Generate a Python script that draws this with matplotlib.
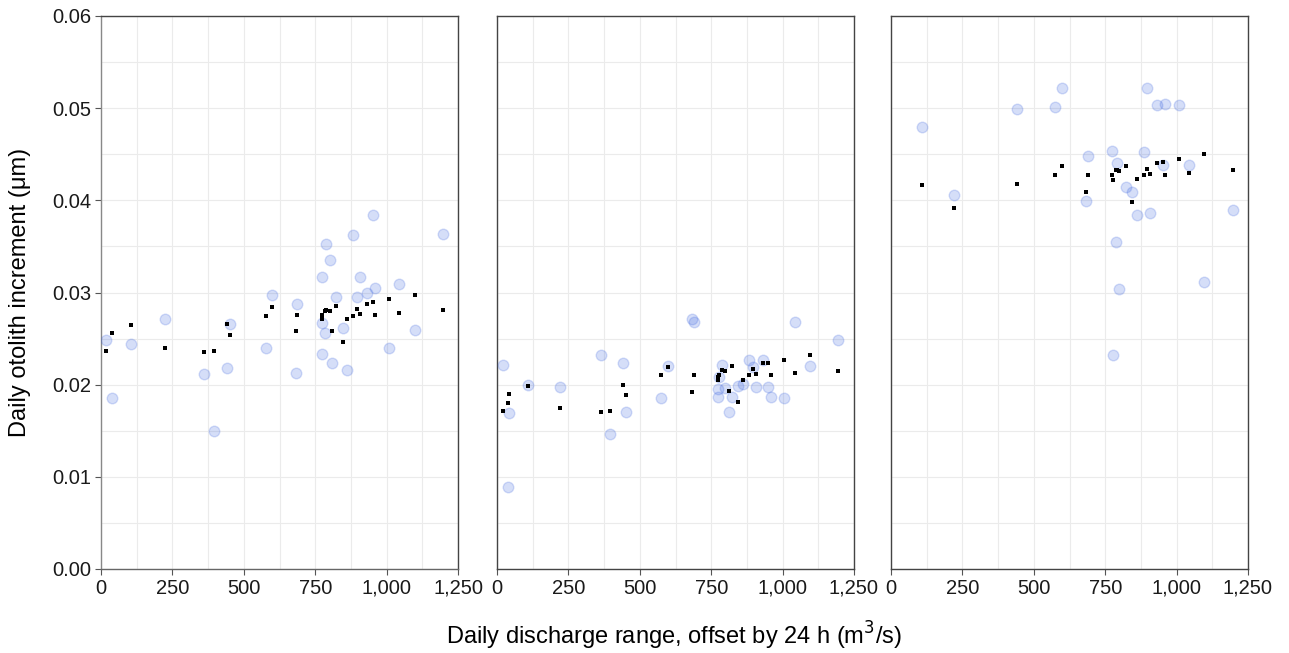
import numpy as np
import matplotlib
matplotlib.use('Agg')
import matplotlib.pyplot as plt
from matplotlib.ticker import MultipleLocator, FuncFormatter

plt.rcParams['font.family'] = ['Liberation Sans', 'DejaVu Sans']

# 面板1
x1 = [19, 40, 106, 223, 362, 397, 441, 451, 576, 597, 684, 688, 773, 773, 774, 786,
      789, 801, 810, 824, 846, 860, 884, 897, 906, 933, 951, 959, 1008, 1044, 1098, 1197]
obs1 = [0.0249, 0.0186, 0.0244, 0.0271, 0.0212, 0.0150, 0.0218, 0.0266, 0.0240, 0.0297,
        0.0213, 0.0288, 0.0317, 0.0267, 0.0233, 0.0256, 0.0353, 0.0335, 0.0223, 0.0295,
        0.0262, 0.0216, 0.0362, 0.0295, 0.0317, 0.0299, 0.0384, 0.0305, 0.0240, 0.0309,
        0.0259, 0.0363]
fit1 = [0.0236, 0.0256, 0.0265, 0.0240, 0.0235, 0.0236, 0.0266, 0.0254, 0.0275, 0.0284,
        0.0258, 0.0276, 0.0276, 0.0273, 0.0271, 0.0280, 0.0281, 0.0280, 0.0258, 0.0285,
        0.0246, 0.0271, 0.0275, 0.0282, 0.0277, 0.0288, 0.0290, 0.0276, 0.0293, 0.0278,
        0.0297, 0.0281]

# 面板2
x2 = [20, 40, 41, 110, 222, 363, 396, 441, 450, 575, 597, 682, 689, 773, 775, 776,
      787, 800, 811, 824, 844, 860, 884, 896, 907, 932, 950, 960, 1006, 1043, 1096, 1195]
obs2 = [0.0221, 0.0089, 0.0169, 0.0200, 0.0197, 0.0232, 0.0146, 0.0223, 0.0170, 0.0186,
        0.0220, 0.0271, 0.0268, 0.0195, 0.0187, 0.0208, 0.0221, 0.0196, 0.0170, 0.0187,
        0.0199, 0.0201, 0.0227, 0.0219, 0.0198, 0.0227, 0.0198, 0.0187, 0.0186, 0.0268,
        0.0220, 0.0248]
fit2 = [0.0171, 0.0180, 0.0190, 0.0199, 0.0175, 0.0170, 0.0171, 0.0200, 0.0189, 0.0210,
        0.0219, 0.0192, 0.0211, 0.0205, 0.0208, 0.0211, 0.0216, 0.0215, 0.0193, 0.0220,
        0.0181, 0.0205, 0.0210, 0.0217, 0.0212, 0.0223, 0.0224, 0.0211, 0.0227, 0.0213,
        0.0232, 0.0215]

# 面板3
x3 = [108, 221, 441, 575, 599, 683, 690, 775, 777, 787, 791, 800, 824, 845, 863, 885,
      896, 908, 932, 951, 960, 1010, 1043, 1097, 1196]
obs3 = [0.0480, 0.0406, 0.0499, 0.0501, 0.0522, 0.0399, 0.0448, 0.0454, 0.0232, 0.0355,
        0.0440, 0.0304, 0.0414, 0.0409, 0.0384, 0.0452, 0.0522, 0.0386, 0.0503, 0.0438,
        0.0505, 0.0503, 0.0438, 0.0311, 0.0389]
fit3 = [0.0417, 0.0392, 0.0418, 0.0428, 0.0437, 0.0409, 0.0428, 0.0428, 0.0422, 0.0433,
        0.0433, 0.0432, 0.0437, 0.0398, 0.0423, 0.0428, 0.0434, 0.0429, 0.0440, 0.0442,
        0.0428, 0.0445, 0.0430, 0.0450, 0.0433]

panels = [(x1, obs1, fit1), (x2, obs2, fit2), (x3, obs3, fit3)]

W, H = 1289, 653
fig = plt.figure(figsize=(W / 100, H / 100), dpi=100)
lefts = [101, 497, 891]
for i, (x, obs, fit) in enumerate(panels):
    ax = fig.add_axes([lefts[i] / W, (H - 569) / H, 357 / W, 553 / H])
    ax.scatter(x, obs, s=58, color='#4169e1', alpha=0.22, edgecolors='#4169e1',
               linewidths=1.0, zorder=3)
    ax.scatter(x, fit, s=12, marker='s', color='black', linewidths=0, zorder=4)
    ax.set_xlim(0, 1250)
    ax.set_ylim(0, 0.06)
    ax.xaxis.set_major_locator(MultipleLocator(250))
    ax.xaxis.set_minor_locator(MultipleLocator(125))
    ax.yaxis.set_major_locator(MultipleLocator(0.01))
    ax.yaxis.set_minor_locator(MultipleLocator(0.005))
    ax.xaxis.set_major_formatter(FuncFormatter(lambda v, p: f'{v:,.0f}'))
    ax.yaxis.set_major_formatter(FuncFormatter(lambda v, p: f'{v:.2f}'))
    ax.grid(which='both', color='#ebebeb', linewidth=0.8, zorder=0)
    ax.set_axisbelow(True)
    ax.tick_params(which='minor', length=0)
    ax.tick_params(which='major', length=4, width=0.8, color='#555555',
                   labelsize=14.5, labelcolor='#1a1a1a', pad=3)
    for sp in ax.spines.values():
        sp.set_color('#444444')
        sp.set_linewidth(1.0)
    if i == 0:
        ax.spines['left'].set_color('#888888')
        ax.spines['bottom'].set_color('#666666')
    else:
        ax.tick_params(axis='y', which='major', length=0, labelleft=False)

fig.text(20 / W, 1 - 292.5 / H, 'Daily otolith increment (μm)', rotation=90,
         ha='center', va='center', fontsize=17)
fig.text(674 / W, 1 - 636 / H, r'Daily discharge range, offset by 24 h (m$^3$/s)',
         ha='center', va='center', fontsize=17)

fig.savefig('out.png', dpi=100)
